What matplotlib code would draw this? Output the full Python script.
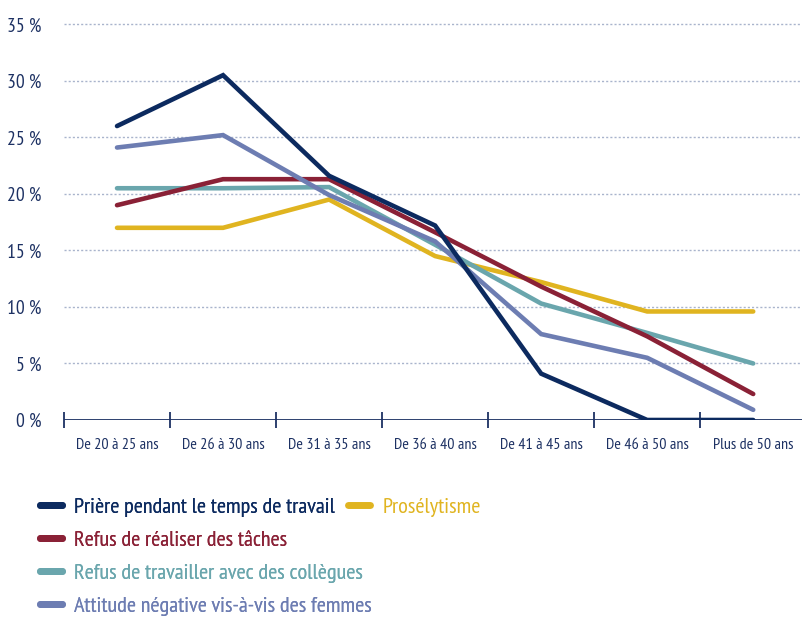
import matplotlib.pyplot as plt
from matplotlib.lines import Line2D

# condensed fonts first, plain fallbacks after
plt.rcParams['font.family'] = ['PT Sans Narrow', 'Roboto Condensed', 'Liberation Sans', 'DejaVu Sans']

categories = ['De 20 à 25 ans', 'De 26 à 30 ans', 'De 31 à 35 ans', 'De 36 à 40 ans',
              'De 41 à 45 ans', 'De 46 à 50 ans', 'Plus de 50 ans']

priere = [26.0, 30.5, 21.6, 17.2, 4.1, 0.0, 0.0]
taches = [19.0, 21.3, 21.3, 16.6, 11.8, 7.4, 2.3]
collegues = [20.5, 20.5, 20.6, 15.5, 10.3, 7.7, 5.0]
femmes = [24.1, 25.2, 19.9, 15.8, 7.6, 5.5, 0.9]
proselytisme = [17.0, 17.0, 19.5, 14.5, 12.2, 9.6, 9.6]

labels = ['Prière pendant le temps de travail', 'Refus de réaliser des tâches',
          'Refus de travailler avec des collègues', 'Attitude négative vis-à-vis des femmes',
          'Prosélytisme']
colors = ['#0c2a5f', '#8a2136', '#6aa6ad', '#6d7db2', '#e0b420']
yticks = [0, 5, 10, 15, 20, 25, 30, 35]

navy = '#1d3163'

fig = plt.figure(figsize=(8.02, 6.21), dpi=100)
ax = fig.add_axes([64 / 802, 201 / 621, 1 - 64 / 802, 407 / 621])

x = list(range(len(categories)))
series = [priere, taches, collegues, femmes, proselytisme]
order = [4, 2, 1, 3, 0]  # drawing order, prière on top
for i in order:
    ax.plot(x, series[i], color=colors[i], lw=3.3, solid_joinstyle='miter',
            solid_capstyle='round', zorder=3 + (i == 0))

ax.set_xlim(-0.5, 6.46)
ax.set_ylim(0, 36)

for v in yticks[1:]:
    ax.axhline(v, color='#a9b4cc', lw=1, ls=(0, (1.5, 1.5)), zorder=1)
ax.axhline(0, color=navy, lw=1.3, zorder=2)

ax.set_yticks(yticks)
ax.set_yticklabels([f'{v} %' for v in yticks], color=navy, fontsize=14)
ax.tick_params(axis='y', length=0, pad=16)

ax.set_xticks([i - 0.5 for i in x])
ax.set_xticklabels([])
ax.tick_params(axis='x', direction='inout', length=11, width=1.3, color=navy)
for i, c in enumerate(categories):
    ax.text(i, -2.2, c, ha='center', va='center', color=navy, fontsize=11.5,
            clip_on=False)

for s in ax.spines.values():
    s.set_visible(False)

h = [Line2D([], [], color=colors[i], lw=5, solid_capstyle='round') for i in range(5)]
leg_kw = dict(loc='upper left', frameon=False, fontsize=16, handlelength=1.0,
              handletextpad=0.55, labelspacing=0.6, labelcolor='linecolor',
              borderaxespad=0)
leg1 = fig.legend(h[:4], labels[:4], bbox_to_anchor=(0.0387, 0.213), **leg_kw)
fig.legend(h[4:], labels[4:], bbox_to_anchor=(0.4227, 0.213), **leg_kw)
fig.add_artist(leg1)

fig.savefig('out.png', dpi=100)
